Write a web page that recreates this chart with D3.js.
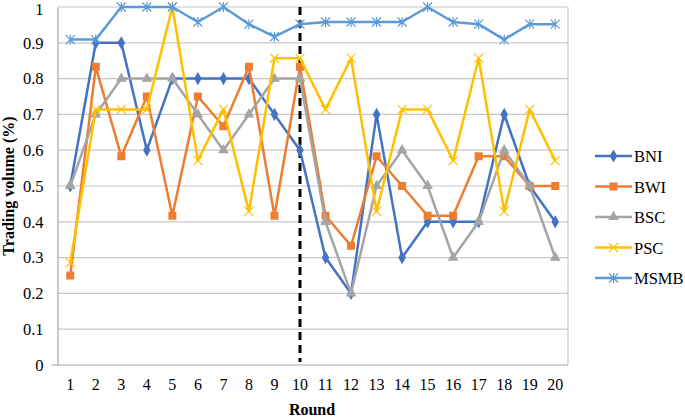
<!DOCTYPE html>
<html><head><meta charset="utf-8">
<script src="https://cdn.jsdelivr.net/npm/d3@7"></script>
<style>body{margin:0;background:#fff}svg{display:block}text{font-family:"Liberation Serif","Times New Roman",serif}</style>
</head><body><svg id="c" width="685" height="418"></svg>
<script>
const rounds = d3.range(1, 21).map(String);
const yTicks = [0,0.1,0.2,0.3,0.4,0.5,0.6,0.7,0.8,0.9,1];
const seriesNames = ["BNI","BWI","BSC","PSC","MSMB"];
const BNI  = [0.5,0.9,0.9,0.6,0.8,0.8,0.8,0.8,0.7,0.6,0.3,0.2,0.7,0.3,0.4,0.4,0.4,0.7,0.5,0.4];
const BWI  = [0.25,0.833,0.583,0.75,0.417,0.75,0.667,0.833,0.417,0.833,0.417,0.333,0.583,0.5,0.417,0.417,0.583,0.583,0.5,0.5];
const BSC  = [0.5,0.7,0.8,0.8,0.8,0.7,0.6,0.7,0.8,0.8,0.4,0.2,0.5,0.6,0.5,0.3,0.4,0.6,0.5,0.3];
const PSC  = [0.286,0.714,0.714,0.714,1.0,0.571,0.714,0.429,0.857,0.857,0.714,0.857,0.429,0.714,0.714,0.571,0.857,0.429,0.714,0.571];
const MSMB = [0.909,0.909,1,1,1,0.958,1,0.952,0.917,0.952,0.958,0.958,0.958,0.958,1,0.958,0.952,0.909,0.952,0.952];
const dividerRound = "10";

const colors = {BNI:"#4472C4",BWI:"#ED7D31",BSC:"#A5A5A5",PSC:"#FFC000",MSMB:"#5B9BD5"};
const markers = {BNI:"diamond",BWI:"square",BSC:"triangle",PSC:"x",MSMB:"star"};
const data = {BNI,BWI,BSC,PSC,MSMB};

const svg = d3.select("#c");
const L = 57.5, R = 568, T = 7, B = 365;
const x = d3.scaleBand().domain(rounds).range([L, R]);
const y = d3.scaleLinear().domain([0,1]).range([B, T]);
const cx = d => x(d) + x.bandwidth()/2;

// gridlines
svg.append("g").selectAll("line").data(yTicks.filter(t=>t>0)).join("line")
  .attr("x1", L).attr("x2", R).attr("y1", d=>y(d)).attr("y2", d=>y(d))
  .attr("stroke", "#C8C8C8").attr("stroke-width", 1.2);
// right border
svg.append("line").attr("x1",R).attr("x2",R).attr("y1",T).attr("y2",B).attr("stroke","#C8C8C8").attr("stroke-width",1.2);

// y axis
const ya = svg.append("g").attr("transform",`translate(${L},0)`)
  .call(d3.axisLeft(y).tickValues(yTicks).tickFormat(d=>d===0?"0":d===1?"1":d3.format(".1f")(d)).tickSize(0).tickPadding(14));
ya.select(".domain").attr("stroke","#A6A6A6").attr("stroke-width",1.2);
ya.selectAll("text").attr("font-size",16.5).attr("fill","#000").style("font-family","Liberation Serif")
  .attr("dy", d => d===1 ? "0.45em" : "0.32em");
// x axis
const xa = svg.append("g").attr("transform",`translate(0,${B})`)
  .call(d3.axisBottom(x).tickSize(0).tickPadding(14));
xa.select(".domain").attr("stroke","#A6A6A6").attr("stroke-width",1.2).attr("d",`M${L-6},0H${R}`);
xa.selectAll("text").attr("font-size",16).attr("fill","#000").style("font-family","Liberation Serif");

// divider
svg.append("line").attr("x1",cx(dividerRound)).attr("x2",cx(dividerRound)).attr("y1",T).attr("y2",B-3)
  .attr("stroke","#000").attr("stroke-width",3).attr("stroke-dasharray","8,5");

function markerPath(type){
  switch(type){
    case "diamond": return d3.symbol(d3.symbolDiamond, 50)();
    case "square": return d3.symbol(d3.symbolSquare, 64)();
    case "triangle": return d3.symbol(d3.symbolTriangle, 50)();
    case "x": return "M-4.5,-4.5L4.5,4.5M-4.5,4.5L4.5,-4.5";
    case "star": return "M-4.5,-4.5L4.5,4.5M-4.5,4.5L4.5,-4.5M0,-5L0,5";
  }
}
const line = d3.line().x((d,i)=>cx(rounds[i])).y(d=>y(d));
seriesNames.forEach(name=>{
  const g = svg.append("g");
  g.append("path").datum(data[name]).attr("d",line).attr("fill","none")
    .attr("stroke",colors[name]).attr("stroke-width",2.5).attr("stroke-linejoin","round");
  const stroked = markers[name]==="x"||markers[name]==="star";
  g.selectAll("path.m").data(data[name]).join("path").attr("class","m")
    .attr("transform",(d,i)=>`translate(${cx(rounds[i])},${y(d)})`)
    .attr("d",markerPath(markers[name]))
    .attr("fill",stroked?"none":colors[name])
    .attr("stroke",stroked?colors[name]:"none").attr("stroke-width",1.2);
});

// legend
const lg = svg.append("g");
seriesNames.forEach((name,i)=>{
  const yy = 156 + i*30.5;
  lg.append("line").attr("x1",595).attr("x2",632).attr("y1",yy).attr("y2",yy).attr("stroke",colors[name]).attr("stroke-width",2.5);
  const stroked = markers[name]==="x"||markers[name]==="star";
  lg.append("path").attr("transform",`translate(613.5,${yy})`).attr("d",markerPath(markers[name]))
    .attr("fill",stroked?"none":colors[name]).attr("stroke",stroked?colors[name]:"none").attr("stroke-width",1.2);
  lg.append("text").attr("x",634).attr("y",yy+6).attr("font-size",16.5).text(name);
});

// axis titles
svg.append("text").attr("x",312).attr("y",415).attr("text-anchor","middle").attr("font-weight","bold").attr("font-size",16).text("Round");
svg.append("text").attr("transform",`translate(14,186) rotate(-90)`).attr("text-anchor","middle").attr("font-weight","bold").attr("font-size",16).text("Trading volume (%)");
</script></body></html>
